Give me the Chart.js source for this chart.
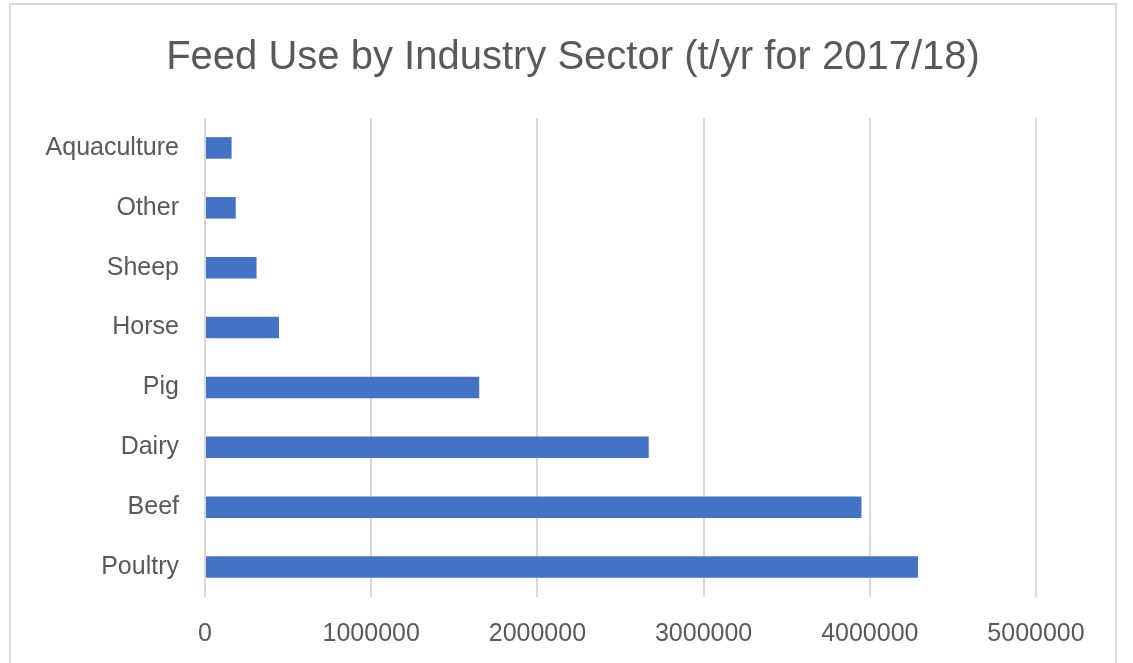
<!DOCTYPE html>
<html>
<head>
<meta charset="utf-8">
<script src="https://cdn.jsdelivr.net/npm/chart.js@4"></script>
<style>
  html, body { margin: 0; padding: 0; background: #fff; }
  .frame {
    position: absolute; left: 9px; top: 3px;
    width: 1104px; height: 680px;
    border: 2px solid #d9d9d9;
  }
  canvas { position: absolute; left: 0; top: 0; }
</style>
</head>
<body>
<div class="frame"></div>
<canvas id="myChart" width="1133" height="663"></canvas>
<script>
// Feed use by sector, top to bottom as drawn
const sectors = ['Aquaculture', 'Other', 'Sheep', 'Horse', 'Pig', 'Dairy', 'Beef', 'Poultry']
const feedTonnes = [160000, 185000, 310000, 445000, 1650000, 2670000, 3950000, 4290000]
const xTicks = [0, 1000000, 2000000, 3000000, 4000000, 5000000]

const textColor = '#595959'
const gridColor = '#d9d9d9'

// title in the original sits centred on the whole frame, not on the plot
const titleShift = {
  id: 'titleShift',
  afterLayout(chart) {
    if (chart.titleBlock) {
      chart.titleBlock.left += 100
    }
  }
}

const ctx = document.getElementById('myChart');
const myChart = new Chart(ctx, {
  type: 'bar',
  data: {
    labels: sectors,
    datasets: [{
      label: 'Feed use (t/yr)',
      data: feedTonnes,
      backgroundColor: '#4472c4',
      borderWidth: 0,
      barPercentage: 0.6,
      categoryPercentage: 0.6
    }]
  },
  plugins: [titleShift],
  options: {
    indexAxis: 'y',
    responsive: false,
    animation: false,
    devicePixelRatio: 1,
    layout: {
      padding: { left: 10, right: 97, top: 0, bottom: 0 }
    },
    scales: {
      x: {
        min: xTicks[0],
        max: xTicks[xTicks.length - 1],
        afterBuildTicks: function(axis) {
          axis.ticks = xTicks.map(v => ({ value: v }))
        },
        afterFit: function(axis) {
          axis.height = 66
        },
        grid: {
          color: gridColor,
          lineWidth: 2,
          drawTicks: false
        },
        border: { display: false },
        ticks: {
          padding: 22,
          color: textColor,
          font: { family: 'Liberation Sans', size: 25 },
          callback: function(value) {
            return String(value)
          }
        }
      },
      y: {
        afterFit: function(axis) {
          axis.width = 195
        },
        grid: { display: false, drawTicks: false },
        border: { display: false },
        ticks: {
          padding: 26,
          color: textColor,
          font: { family: 'Liberation Sans', size: 25 }
        }
      }
    },
    plugins: {
      legend: { display: false },
      tooltip: { enabled: false },
      title: {
        display: true,
        text: 'Feed Use by Industry Sector (t/yr for 2017/18)',
        color: textColor,
        font: { family: 'Liberation Sans', size: 40, weight: 'normal', lineHeight: 1.2 },
        padding: { top: 34, bottom: 36 }
      }
    }
  }
});
</script>
</body>
</html>
